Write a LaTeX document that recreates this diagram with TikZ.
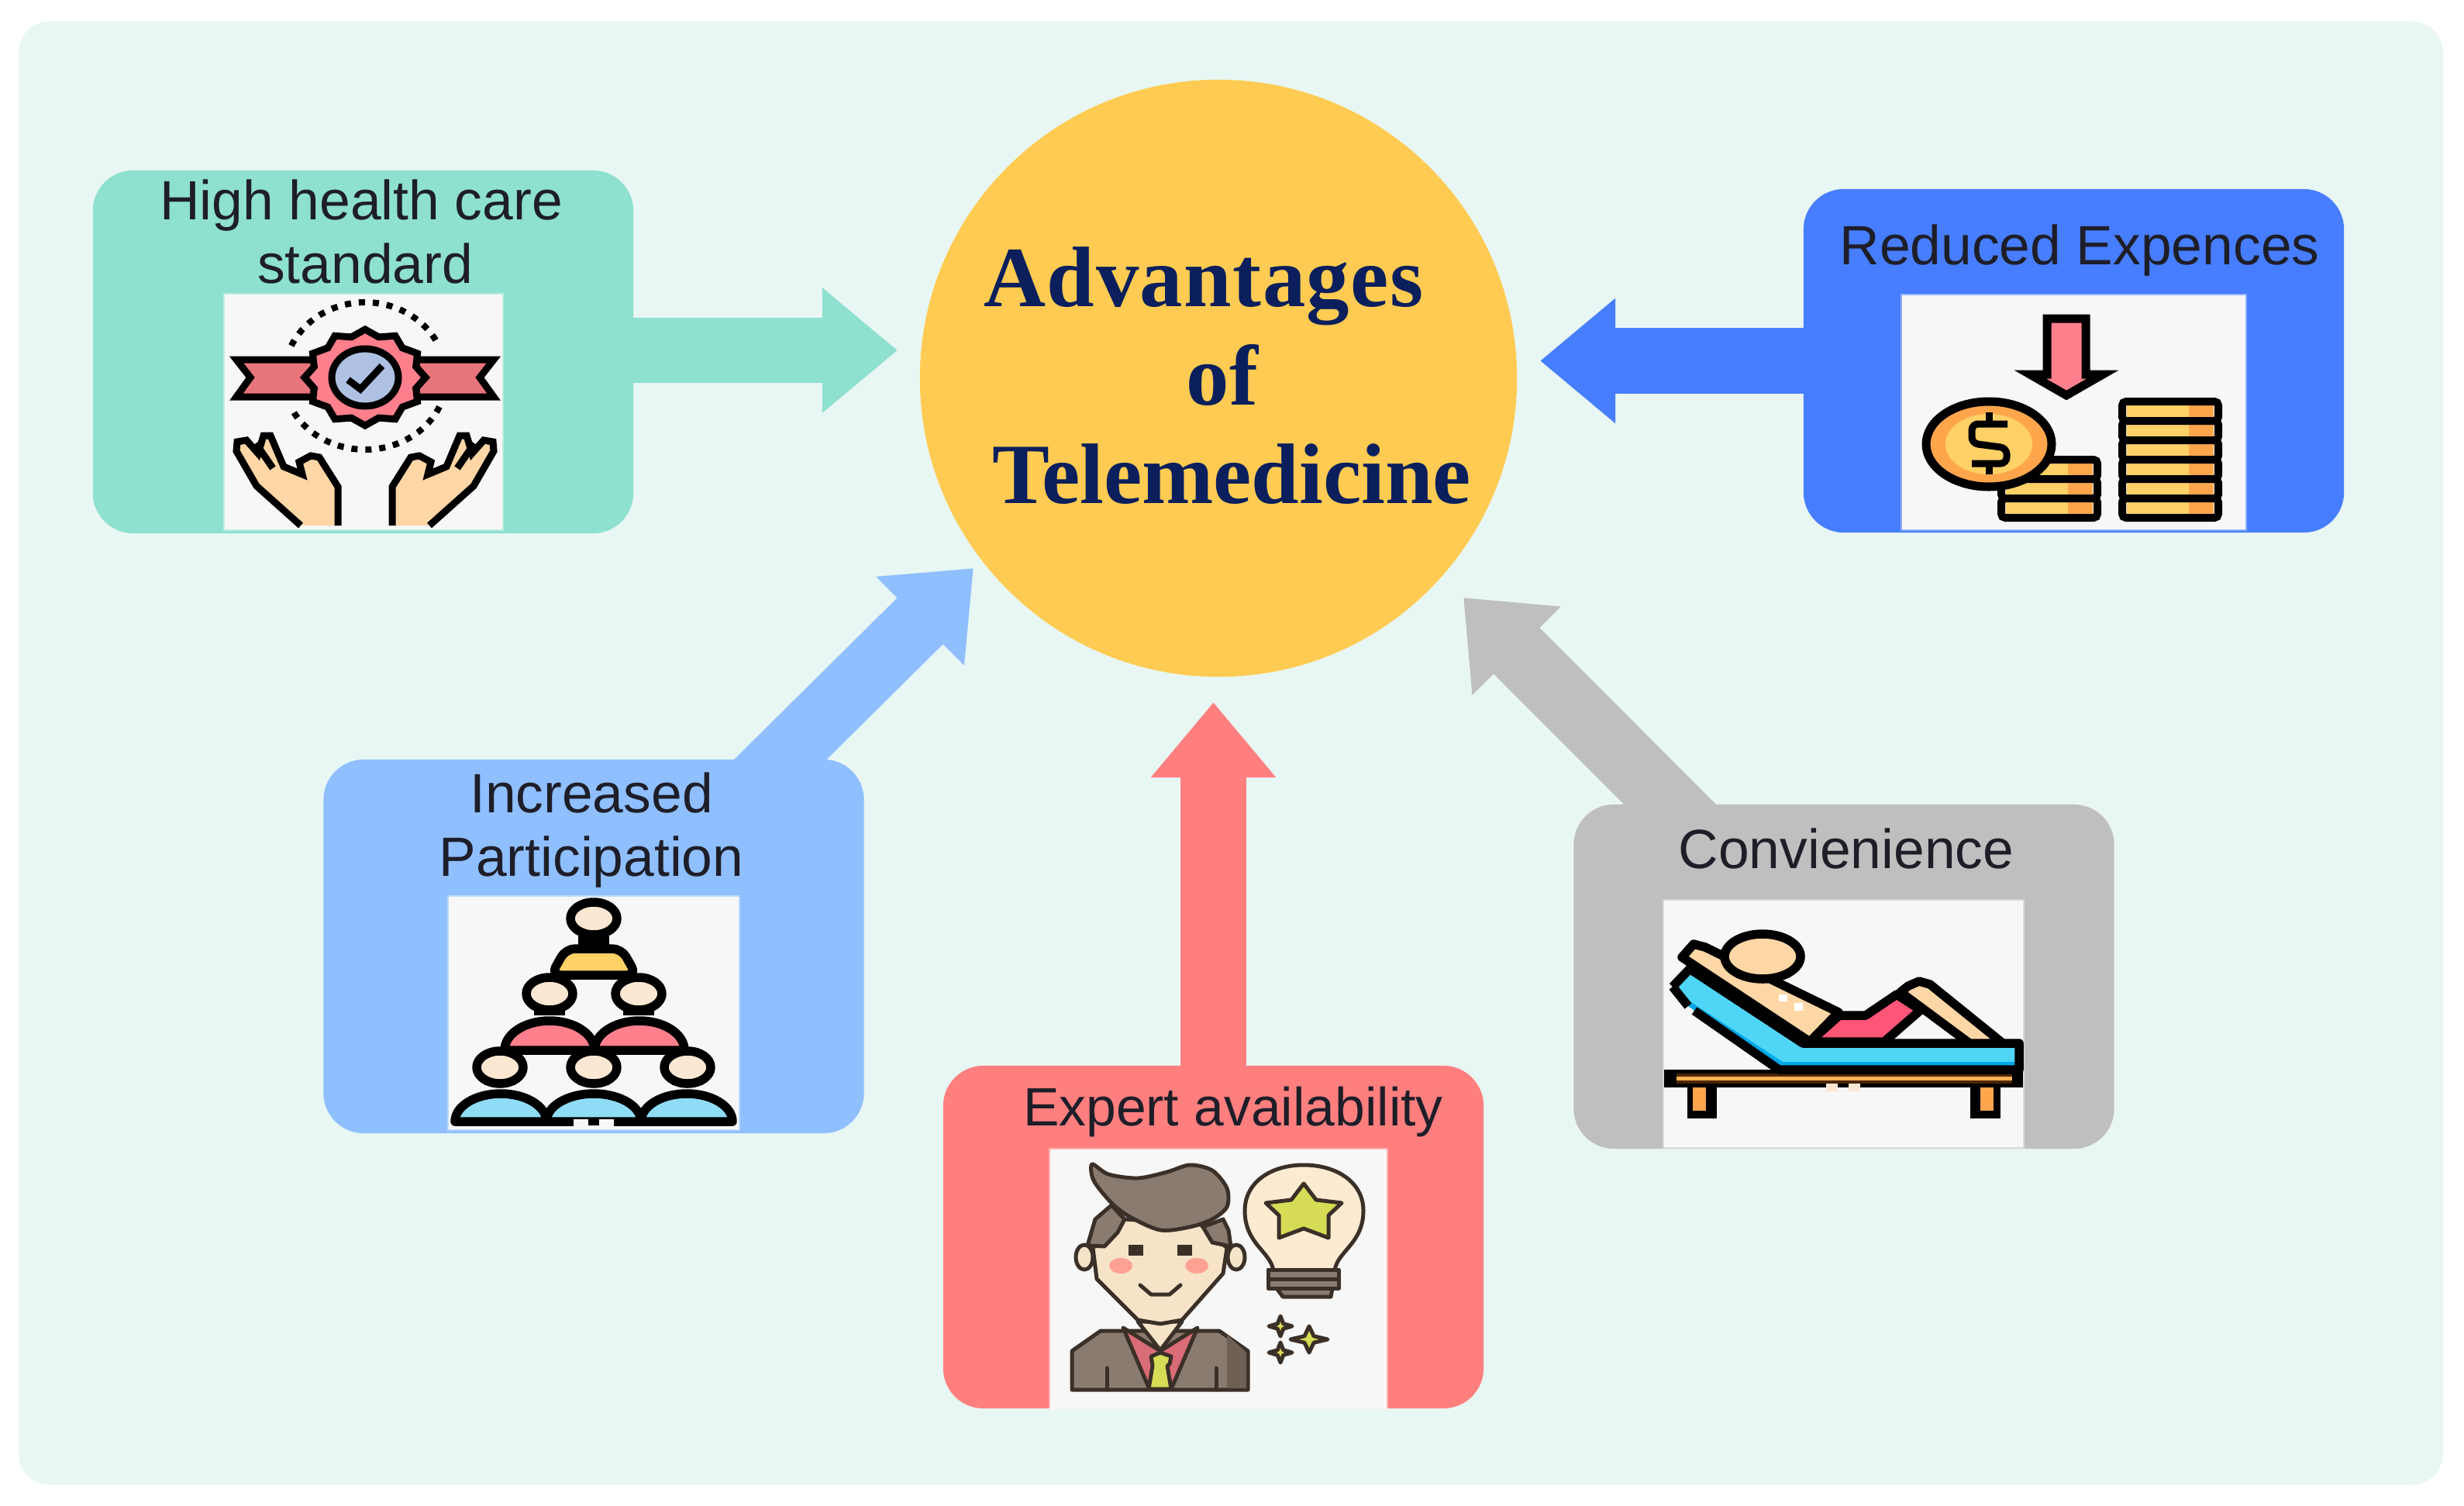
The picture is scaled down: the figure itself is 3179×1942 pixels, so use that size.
\documentclass[tikz,border=0pt]{standalone}
\usepackage{fontspec}
\setmainfont{Liberation Sans}
\newfontfamily\titlefont{Liberation Serif}
\usetikzlibrary{arrows.meta}
\definecolor{panelC}{HTML}{E8F7F3}
\definecolor{tealC}{HTML}{8EE0CF}
\definecolor{royalC}{HTML}{477DFF}
\definecolor{skyC}{HTML}{8FBFFF}
\definecolor{greyC}{HTML}{BFBFBF}
\definecolor{coralC}{HTML}{FF7F7F}
\definecolor{sunC}{HTML}{FFCB52}
\definecolor{navyC}{HTML}{0A1F5C}
\definecolor{inkC}{HTML}{1E1E28}
\definecolor{paperC}{HTML}{F7F7F7}
\definecolor{skinC}{HTML}{FFD6A5}
\definecolor{paleC}{HTML}{FCE8D2}
\definecolor{roseC}{HTML}{FF7F8C}
\definecolor{ribbonC}{HTML}{E8747C}
\definecolor{steelC}{HTML}{AFC1E3}
\definecolor{coinC}{HTML}{FFD166}
\definecolor{copperC}{HTML}{FFA64D}
\definecolor{capeC}{HTML}{8EDCF5}
\definecolor{bedC}{HTML}{4FD6F7}
\definecolor{bedlowC}{HTML}{00A8E8}
\definecolor{shortC}{HTML}{FF5577}
\definecolor{hairC}{HTML}{8A7B70}
\definecolor{hairlowC}{HTML}{6E6054}
\definecolor{lineC}{HTML}{3B3028}
\definecolor{limeC}{HTML}{D6DC55}
\definecolor{faceC}{HTML}{F6E3C8}
\definecolor{bulbC}{HTML}{FCEBD0}
\tikzset{
panel/.style={rectangle,rounded corners=0.4cm,minimum width=31.26cm,minimum height=18.87cm,fill=panelC,inner sep=0pt}
}
\tikzset{
card/.style={rectangle,rounded corners=0.52cm,minimum width=6.97cm,inner sep=0pt}
}
\tikzset{
photo/.style={rectangle,fill=paperC,draw=white,draw opacity=0.4,line width=0.03cm,inner sep=0pt}
}
\tikzset{
fat/.style={line width=0.84cm,-{Triangle[length=0.97cm,width=1.55cm]}}
}
\tikzset{
lab/.style={anchor=base,align=center,inner sep=0pt,text=inkC,font=\fontsize{20.3}{23.2}\selectfont}
}
\tikzset{
ink/.style={draw=black,line width=0.09cm,line join=miter}
}
\tikzset{
inkwide/.style={draw=black,line width=0.115cm,line join=round}
}
\tikzset{
inkfine/.style={draw=lineC,line width=0.05cm,line join=round,line cap=round}
}
\begin{document}
\begin{tikzpicture}[x=0.01cm,y=-0.01cm]
\useasboundingbox (0,0) rectangle (3179,1942);

\node[panel] (back) at (1588,971.5) {};
\node[circle,fill=sunC,minimum size=7.7cm,inner sep=0pt,align=center,text=navyC,font=\titlefont\bfseries\fontsize{31.5}{36}\selectfont] (adv) at (1572,488) {\hspace*{-0.38cm}{\addfontfeature{LetterSpace=1.3}Advantages}\\\hspace*{0.1cm}of\\\hspace*{0.34cm}Telemedicine\rule[-0.08cm]{0pt}{0.08cm}};

\node[card,fill=tealC,minimum height=4.68cm] (boxHigh) at (468.5,454) {};
\node[card,fill=royalC,minimum height=4.43cm] (boxCost) at (2675.5,465.5) {};
\node[card,fill=skyC,minimum height=4.82cm] (boxPart) at (766,1221) {};
\node[card,fill=greyC,minimum height=4.44cm] (boxConv) at (2379,1260) {};
\node[card,fill=coralC,minimum height=4.42cm] (boxExpert) at (1565.5,1596) {};
%------------------------------------------------------------------------------------------------------------%
\coordinate (tipHigh) at (1158,452);
\coordinate (tipCost) at (1987,465.5);
\coordinate (tipPart) at (1256,733);
\coordinate (tipConv) at (1888,771);
\coordinate (tipExpert) at (1565.5,906);
\draw[fat,tealC] ([xshift=-0.05cm]boxHigh.east |- tipHigh) -- (tipHigh);
\draw[fat,royalC] ([xshift=0.05cm]boxCost.west) -- (tipCost);
\draw[fat,skyC] ([xshift=2.01cm,yshift=-0.4cm]boxPart.north) -- (tipPart);
\draw[fat,greyC] ([xshift=-1.85cm,yshift=-0.4cm]boxConv.north) -- (tipConv);
\draw[fat,coralC] ([yshift=-0.05cm]boxExpert.north) -- (tipExpert);
%------------------------------------------------------------------------------------------------------------%
\node[photo,minimum width=3.58cm,minimum height=3.03cm] (imgHigh) at (469,531.5) {};
\node[photo,minimum width=4.43cm,minimum height=3.02cm] (imgCost) at (2675.5,532) {};
\node[photo,minimum width=3.74cm,minimum height=3cm] (imgPart) at (766,1307) {};
\node[photo,minimum width=4.63cm,minimum height=3.18cm] (imgConv) at (2378.5,1321) {};
\node[photo,minimum width=4.34cm,minimum height=3.34cm] (imgExpert) at (1572,1650) {};

\node[lab] (txtHigh) at (466,365) {High health care\\\hspace*{0.1cm}standard};
\node[lab] (txtCost) at (2683,341) {Reduced Expences};
\node[lab] (txtPart) at (763,1130) {Increased\\Participation};
\node[lab] (txtConv) at (2382,1120) {Convienience};
\node[lab,font=\fontsize{19.8}{23.2}\selectfont] (txtExpert) at (1591,1452) {Expert availability};
%------------------------------------------------------------------------------------------------------------%
% badge and hands
\draw[ink,fill=ribbonC] (305,464) -- (323,487) -- (305,512) -- (405,512) -- (405,464) -- cycle;
\draw[ink,fill=ribbonC] (637,464) -- (619,487) -- (637,512) -- (537,512) -- (537,464) -- cycle;
\begin{scope}[shift={(471,487)}]
\draw[ink,fill=roseC] (0:78 and 62) \foreach \a in {15,45,...,345}{ -- (\a:68 and 54) -- (\a+15:78 and 62)} -- cycle;
\draw[ink,fill=steelC] (0,0) ellipse (43 and 37);
\draw[ink] (-22,3) -- (-6,15) -- (22,-15);
\draw[draw=black,line width=0.08cm,dash pattern=on 0.08cm off 0.1cm] (205:105 and 97) arc[start angle=205,end angle=335,x radius=105,y radius=97];
\draw[draw=black,line width=0.08cm,dash pattern=on 0.08cm off 0.1cm] (24:105 and 93) arc[start angle=24,end angle=156,x radius=105,y radius=93];
\end{scope}
\foreach \k/\s in {0/1,942/-1}
{
\begin{scope}[shift={(\k,0)},xscale=\s]
\draw[ink,fill=skinC] (388,678) -- (331,627) -- (305,582) -- (306,570) -- (318,568) -- (333,585) -- (340,562) -- (349,562) -- (366,602) -- (390,612) -- (386,596) -- (401,588) -- (412,590) -- (436,628) -- (436,678);
\draw[ink] (330,572) -- (352,604);
\end{scope}
}
%------------------------------------------------------------------------------------------------------------%
% coins
\draw[line width=0.11cm,draw=black,fill=roseC,line join=miter] (2641,411) -- (2691,411) -- (2691,483) -- (2713,483) -- (2666,510) -- (2619,483) -- (2641,483) -- cycle;
\foreach \i in {0,1,2}
{
\fill[coinC] (2588,{593+25*\i}) rectangle (2668,{618+25*\i});
\fill[copperC] (2668,{593+25*\i}) rectangle (2700,{618+25*\i});
\draw[line width=0.1cm,draw=black,rounded corners=0.05cm] (2582,{593+25*\i}) rectangle (2706,{618+25*\i});
}
\foreach \i in {0,1,...,5}
{
\fill[coinC] (2744,{518+25*\i}) rectangle (2824,{543+25*\i});
\fill[copperC] (2824,{518+25*\i}) rectangle (2856,{543+25*\i});
\draw[line width=0.1cm,draw=black,rounded corners=0.05cm] (2738,{518+25*\i}) rectangle (2862,{543+25*\i});
}
\draw[line width=0.11cm,draw=black,fill=copperC] (2566,573) ellipse (81 and 55);
\fill[coinC] (2566,573) ellipse (56 and 39);
\draw[line width=0.09cm,draw=black,rounded corners=0.08cm] (2590,547) -- (2544,547) -- (2544,572) -- (2589,578) -- (2589,598) -- (2544,598);
\draw[line width=0.09cm,draw=black] (2566,532) -- (2566,547) (2566,598) -- (2566,612);
%------------------------------------------------------------------------------------------------------------%
% pyramid of people
\draw[inkwide,fill=capeC] (587,1447) arc[start angle=180,end angle=360,x radius=59,y radius=36] -- cycle;
\draw[inkwide,fill=capeC] (705,1447) arc[start angle=180,end angle=360,x radius=61,y radius=36] -- cycle;
\draw[inkwide,fill=capeC] (827,1447) arc[start angle=180,end angle=360,x radius=59,y radius=36] -- cycle;
\draw[inkwide,fill=roseC] (651,1355) arc[start angle=180,end angle=360,x radius=58,y radius=38] -- cycle;
\draw[inkwide,fill=roseC] (767,1355) arc[start angle=180,end angle=360,x radius=58,y radius=38] -- cycle;
\draw[inkwide,fill=coinC,rounded corners=0.12cm] (711,1258) -- (730,1224) -- (802,1224) -- (821,1258) -- cycle;
\fill[black] (746,1208) rectangle (786,1222);
\foreach \cx/\cy in {709/1310,824/1310,645/1400,766/1400,887/1400}
{
\fill[black] ({\cx-20},{\cy-20}) rectangle ({\cx+20},\cy);
}
\foreach \cx/\cy in {766/1185,709/1282,824/1282,645/1377,766/1377,887/1377}
{
\draw[inkwide,fill=paleC] (\cx,\cy) ellipse (30 and 21);
}
\fill[paperC] (740,1444) rectangle (792,1454);
\fill[black] (759,1443) rectangle (773,1452);
%------------------------------------------------------------------------------------------------------------%
% sun lounger
\fill[black] (2147,1380) rectangle (2610,1403);
\fill[black!70!orange] (2163,1385) rectangle (2596,1398);
\fill[copperC!70!coinC] (2163,1389) rectangle (2596,1394);
\fill[black] (2177,1403) rectangle (2215,1443);
\fill[black] (2542,1403) rectangle (2581,1443);
\fill[copperC] (2184,1403) rectangle (2201,1433);
\fill[copperC] (2555,1403) rectangle (2572,1433);
\fill[paleC] (2356,1398) rectangle (2371,1408);
\fill[paleC] (2385,1398) rectangle (2400,1408);
\fill[bedC] (2158,1273) -- (2180,1250) -- (2326,1346) -- (2603,1346) -- (2603,1380) -- (2295,1380) -- (2178,1298) -- cycle;
\fill[bedlowC] (2165,1282) -- (2300,1370) -- (2603,1370) -- (2603,1380) -- (2295,1380) -- (2178,1298) -- cycle;
\draw[inkwide] (2158,1273) -- (2180,1250) -- (2326,1346) -- (2605,1346) -- (2605,1380) -- (2295,1380) -- (2186,1304) (2178,1298) -- (2158,1273);
\draw[inkwide,fill=skinC] (2170,1235) -- (2185,1218) -- (2200,1222) -- (2372,1306) -- (2335,1344) -- cycle;
\fill[white] (2295,1283) rectangle (2306,1292);
\fill[white] (2315,1294) rectangle (2326,1304);
\draw[inkwide,fill=skinC] (2274,1234) ellipse (49 and 29);
\draw[inkwide,fill=shortC] (2373,1310) -- (2407,1310) -- (2447,1283) -- (2478,1303) -- (2431,1344) -- (2335,1344) -- cycle;
\draw[inkwide,fill=skinC] (2462,1272) -- (2476,1266) -- (2490,1270) -- (2584,1346) -- (2541,1346) -- (2452,1280) -- cycle;
%------------------------------------------------------------------------------------------------------------%
% man and bulb
\draw[inkfine,fill=hairC] (1383,1793) -- (1383,1743) -- (1420,1717) -- (1573,1717) -- (1610,1743) -- (1610,1793) -- cycle;
\fill[hairlowC] (1583,1722) -- (1608,1745) -- (1608,1791) -- (1583,1791) -- cycle;
\draw[inkfine] (1428,1765) -- (1428,1793) (1569,1765) -- (1569,1793);
\draw[inkfine,fill=roseC!85!black] (1449,1713) -- (1497,1743) -- (1482,1790) -- cycle;
\draw[inkfine,fill=roseC!85!black] (1545,1713) -- (1497,1743) -- (1512,1790) -- cycle;
\draw[inkfine,fill=faceC] (1468,1705) -- (1525,1705) -- (1497,1742) -- cycle;
\draw[inkfine,fill=limeC] (1485,1750) -- (1497,1745) -- (1511,1750) -- (1509,1760) -- (1506,1762) -- (1511,1792) -- (1482,1792) -- (1487,1762) -- cycle;
\draw[inkfine,fill=faceC] (1399,1622) ellipse (11 and 16);
\draw[inkfine,fill=faceC] (1595,1622) ellipse (11 and 16);
\draw[inkfine,fill=faceC] (1451,1573) -- (1410,1610) -- (1415,1650) -- (1468,1703) -- (1497,1708) -- (1525,1703) -- (1578,1643) -- (1583,1610) -- (1549,1580) -- cycle;
\fill[lineC] (1456,1606) rectangle (1475,1620);
\fill[lineC] (1519,1606) rectangle (1538,1620);
\fill[red!30!paleC] (1446,1633) ellipse (15 and 10);
\fill[red!30!paleC] (1544,1633) ellipse (15 and 10);
\draw[inkfine] (1471,1658) -- (1485,1670) -- (1509,1670) -- (1523,1658);
\draw[inkfine,fill=hairC] (1434,1555) -- (1413,1573) -- (1403,1607) -- (1425,1608) -- (1442,1590) -- (1451,1573) -- cycle;
\draw[inkfine,fill=hairC] (1578,1573) -- (1552,1583) -- (1564,1603) -- (1588,1608) -- (1585,1587) -- cycle;
\draw[inkfine,fill=hairC] plot[smooth cycle,tension=0.5] coordinates {(1409,1502) (1430,1515) (1468,1520) (1506,1512) (1535,1503) (1564,1510) (1583,1533) (1583,1557) (1564,1573) (1535,1583) (1497,1587) (1458,1570) (1434,1552) (1411,1523)};
\draw[inkfine,fill=bulbC] (1643,1640) .. controls (1640,1615) and (1606,1605) .. (1606,1562) .. controls (1606,1525) and (1640,1503) .. (1682,1503) .. controls (1724,1503) and (1759,1525) .. (1759,1562) .. controls (1759,1605) and (1724,1615) .. (1722,1640) -- cycle;
\draw[inkfine,fill=limeC] (1682,1527) -- (1698,1548) -- (1731,1552) -- (1714,1568) -- (1714,1597) -- (1682,1585) -- (1650,1597) -- (1650,1568) -- (1633,1552) -- (1666,1548) -- cycle;
\draw[inkfine,fill=hairC] (1647,1662) -- (1655,1673) -- (1717,1673) -- (1719,1662) -- cycle;
\draw[inkfine,fill=hairC] (1636,1638) rectangle (1727,1650);
\draw[inkfine,fill=hairC] (1636,1650) rectangle (1727,1662);
\foreach \px/\py/\rx/\ry in {1652/1711/15/13,1689/1728/24/17,1652/1745/15/13}
{
\draw[inkfine,fill=limeC] ({\px-\rx},\py) -- ({\px-0.25*\rx},{\py-0.25*\ry}) -- (\px,{\py-\ry}) -- ({\px+0.25*\rx},{\py-0.25*\ry}) -- ({\px+\rx},\py) -- ({\px+0.25*\rx},{\py+0.25*\ry}) -- (\px,{\py+\ry}) -- ({\px-0.25*\rx},{\py+0.25*\ry}) -- cycle;
}
\end{tikzpicture}
\end{document}
